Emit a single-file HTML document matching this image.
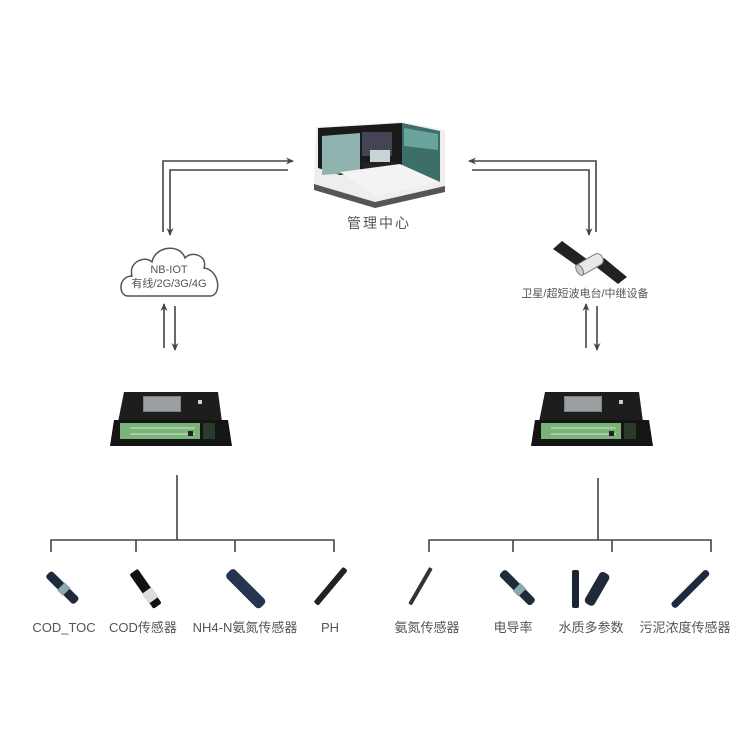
<!DOCTYPE html>
<html><head><meta charset="utf-8"><style>
html,body{margin:0;padding:0;background:#fff;width:750px;height:750px;overflow:hidden}
text{font-family:"Liberation Sans","Noto Sans CJK SC",sans-serif;fill:#555}
</style></head><body>
<svg width="750" height="750" viewBox="0 0 750 750" xmlns="http://www.w3.org/2000/svg">
<defs>
<marker id="ah" markerWidth="8" markerHeight="8" refX="7" refY="4" orient="auto" markerUnits="userSpaceOnUse">
<path d="M0,0.5 L8,4 L0,7.5 L2.5,4 Z" fill="#444"/></marker>
<g id="dev">
<path d="M14,0 L108,0 L112,30 L8,30 Z" fill="#1d1d1d"/>
<rect x="33" y="4" width="38" height="16" fill="#7d8184"/>
<rect x="34" y="5" width="36" height="14" fill="#9a9fa2"/>
<rect x="88" y="8" width="4" height="4" fill="#ccc"/>
<path d="M4,28 L118,28 L122,54 L0,54 Z" fill="#151515"/>
<rect x="10" y="31" width="80" height="16" fill="#7ab37a"/>
<line x1="20" y1="36" x2="85" y2="36" stroke="#cfe7c8" stroke-width="1"/>
<line x1="20" y1="42" x2="85" y2="42" stroke="#cfe7c8" stroke-width="1"/>
<rect x="93" y="31" width="12" height="16" fill="#2b3b2b"/>
<rect x="78" y="39" width="5" height="5" fill="#222"/>
</g>
</defs>
<g stroke="#444" stroke-width="1.6" fill="none">
<polyline points="163,232 163,161 293,161" marker-end="url(#ah)"/>
<polyline points="288,170 170,170 170,235" marker-end="url(#ah)"/>
<polyline points="596,232 596,161 469,161" marker-end="url(#ah)"/>
<polyline points="472,170 589,170 589,235" marker-end="url(#ah)"/>
<line x1="164" y1="348" x2="164" y2="304" marker-end="url(#ah)"/>
<line x1="175" y1="306" x2="175" y2="350" marker-end="url(#ah)"/>
<line x1="586" y1="348" x2="586" y2="304" marker-end="url(#ah)"/>
<line x1="597" y1="306" x2="597" y2="350" marker-end="url(#ah)"/>
<polyline points="177,475 177,540"/>
<polyline points="51,552 51,540 334,540 334,552"/>
<line x1="136" y1="540" x2="136" y2="552"/>
<line x1="235" y1="540" x2="235" y2="552"/>
<polyline points="598,478 598,540"/>
<polyline points="429,552 429,540 711,540 711,552"/>
<line x1="513" y1="540" x2="513" y2="552"/>
<line x1="612" y1="540" x2="612" y2="552"/>
</g>
<path d="M128,296 C118,296 118,276 132,276 C128,262 145,255 152,262 C155,246 180,243 185,258 C192,250 208,256 204,268 C220,270 222,296 210,296 Z" fill="#fff" stroke="#555" stroke-width="1.5"/>
<text x="169" y="273" font-size="11" text-anchor="middle" fill="#333">NB-IOT</text>
<text x="169" y="287" font-size="11" text-anchor="middle" fill="#333">有线/2G/3G/4G</text>
<!-- room -->
<path d="M316,127 L402,122 L445,130 L445,186 L375,202 L314,184 Z" fill="#eee"/>
<path d="M318,128 L402,123 L402,165 L340,175 L318,168 Z" fill="#1a1a1a"/>
<path d="M322,136 L360,133 L360,172 L322,175 Z" fill="#8fb3ae"/>
<rect x="362" y="132" width="30" height="24" fill="#445"/>
<path d="M402,123 L440,131 L440,182 L402,170 Z" fill="#3d6e68"/>
<path d="M404,128 L438,134 L438,150 L404,146 Z" fill="#6aa39c"/>
<rect x="370" y="150" width="20" height="12" fill="#c8d4d8"/>
<rect x="362" y="162" width="36" height="10" fill="#222"/>
<path d="M340,172 L400,164 L440,182 L375,196 Z" fill="#f3f3f3"/>
<path d="M314,184 L375,202 L445,186 L445,192 L375,208 L314,190 Z" fill="#555"/>
<text x="379" y="228" font-size="14" text-anchor="middle" fill="#555" letter-spacing="2">管理中心</text>
<path d="M553,249 L562,241 L588,260 L580,268 Z" fill="#222"/>
<path d="M595,266 L604,258 L627,277 L618,284 Z" fill="#222"/>
<g transform="rotate(-30 590 264)"><rect x="576" y="258" width="28" height="12" rx="5" fill="#e8e8e8" stroke="#777"/><ellipse cx="578" cy="264" rx="3" ry="6" fill="#ccc" stroke="#777"/></g>
<text x="585" y="297" font-size="11" text-anchor="middle" fill="#333">卫星/超短波电台/中继设备</text>
<use href="#dev" x="110" y="392"/>
<use href="#dev" x="531" y="392"/>
<g fill="#1f2a3a">
<g transform="rotate(45 62 588)"><rect x="42" y="583" width="40" height="9" rx="3"/><rect x="60" y="582" width="8" height="11" fill="#8aa"/></g>
<g transform="rotate(55 145 588)"><rect x="125" y="583" width="42" height="10" rx="2" fill="#111"/><rect x="148" y="582" width="12" height="12" fill="#ddd"/></g>
<g transform="rotate(45 245 588)"><rect x="222" y="582" width="48" height="12" rx="4" fill="#233650"/></g>
<g transform="rotate(-50 330 587)"><rect x="308" y="584" width="46" height="6" rx="2" fill="#222"/></g>
<g transform="rotate(-60 420 587)"><rect x="400" y="585" width="42" height="4" rx="1" fill="#333"/></g>
<g transform="rotate(45 517 588)"><rect x="495" y="583" width="44" height="9" rx="3"/><rect x="516" y="582" width="8" height="11" fill="#8aa"/></g>
<rect x="572" y="570" width="7" height="38" rx="2" fill="#1a2433"/>
<g transform="rotate(-60 597 590)"><rect x="580" y="584" width="36" height="11" rx="4"/></g>
<g transform="rotate(-45 690 590)"><rect x="666" y="586" width="50" height="7" rx="3" fill="#1d2b40"/></g>
</g>
<g font-size="13" text-anchor="middle">
<text x="64" y="632">COD_TOC</text>
<text x="143" y="632">COD传感器</text>
<text x="245" y="632">NH4-N氨氮传感器</text>
<text x="330" y="632">PH</text>
<text x="427" y="632">氨氮传感器</text>
<text x="513" y="632">电导率</text>
<text x="591" y="632">水质多参数</text>
<text x="685" y="632">污泥浓度传感器</text>
</g>
</svg>
</body></html>
